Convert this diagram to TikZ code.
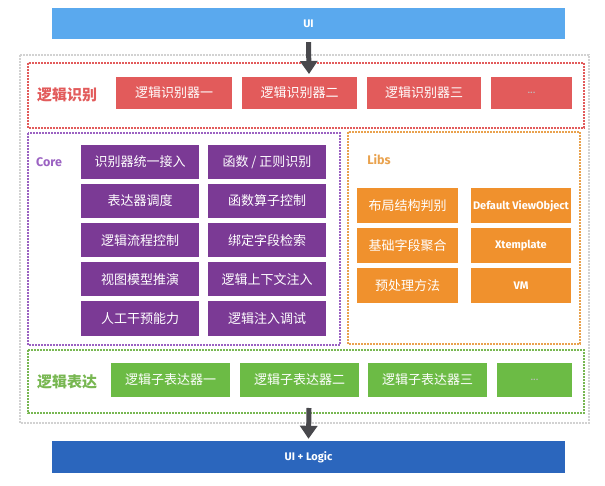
\documentclass[tikz,border=0pt]{standalone}
\usepackage{fontspec}
\setmainfont{Fira Sans}
\newfontfamily\cjk{Noto Sans CJK SC}
\usepackage{xcolor}
\usetikzlibrary{arrows.meta,positioning}
\definecolor{uiblue}{HTML}{5AA9EE}
\definecolor{logicblue}{HTML}{2B66BD}
\definecolor{recred}{HTML}{E25B5B}
\definecolor{corepurple}{HTML}{7B3A95}
\definecolor{corelabel}{HTML}{9B62C2}
\definecolor{liborange}{HTML}{F0912D}
\definecolor{liblabel}{HTML}{E9A24E}
\definecolor{exgreen}{HTML}{6CBB45}
\definecolor{exlabel}{HTML}{78B752}
\definecolor{arrowgray}{HTML}{48484C}
\definecolor{outergray}{HTML}{D2D2D2}

\begin{document}
\begin{tikzpicture}[x=1pt,y=-1pt,
  blk/.style={text=white,inner sep=0pt,font=\cjk\fontsize{13}{15}\selectfont},
  latinblk/.style={font=\bfseries\fontsize{11}{13}\selectfont},
  dots/.style={font=\fontsize{11}{13}\selectfont,text=white!75!black},
  bar/.style={blk,latinblk,minimum width=513pt,minimum height=31pt},
  redbox/.style={blk,fill=recred,minimum width=115pt,minimum height=32pt},
  purplebox/.style={blk,fill=corepurple,minimum width=118pt,minimum height=34pt},
  orangebox/.style={blk,fill=liborange,minimum width=101pt,minimum height=35pt},
  greenbox/.style={blk,fill=exgreen,minimum width=119pt,minimum height=34pt},
  frame/.style={line width=1.6pt,dash pattern=on 1.6pt off 1.4pt},
  grouplabel/.style={font=\cjk\fontsize{15}{17}\selectfont\bfseries},
  latinlabel/.style={font=\bfseries\fontsize{12.5}{14}\selectfont},
  bigarrow/.style={line width=5pt,draw=arrowgray,arrows={-Triangle[width=17pt,length=13pt]}}]
  \useasboundingbox (0,0) rectangle (605,486);

  % top and bottom bars
  \node[bar,fill=uiblue] (ui) at (308.5,23.5) {UI};
  \node[bar,fill=logicblue,minimum height=32pt] (logic) at (308.5,457) {UI + Logic};

  % frames
  \draw[frame,outergray] (20,55) rectangle (589,423);
  \draw[frame,recred] (28,63) rectangle (584,128);
  \draw[frame,corelabel] (28,133) rectangle (340,345);
  \draw[frame,liblabel] (348,132) rectangle (580,344);
  \draw[frame,exlabel] (28,350) rectangle (584,413);

  % recognizers
  \node[grouplabel,text=recred] (rec) at (67,95) {逻辑识别};
  \node[redbox,minimum width=116pt] (r1) at (174,93) {逻辑识别器一};
  \node[redbox] (r2) at (299.5,93) {逻辑识别器二};
  \node[redbox,minimum width=114pt] (r3) at (424,93) {逻辑识别器三};
  \node[redbox,minimum width=81pt,dots] (r4) at (531.5,93) {...};

  % core
  \node[latinlabel,text=corelabel] (core) at (49,162) {Core};
  \node[purplebox] (c11) at (140,162) {识别器统一接入};
  \node[purplebox] (c12) at (267,162) {函数 / 正则识别};
  \node[purplebox] (c21) at (140,201) {表达器调度};
  \node[purplebox] (c22) at (267,201) {函数算子控制};
  \node[purplebox] (c31) at (140,240.5) {逻辑流程控制};
  \node[purplebox] (c32) at (267,240.5) {绑定字段检索};
  \node[purplebox] (c41) at (140,279.5) {视图模型推演};
  \node[purplebox] (c42) at (267,279.5) {逻辑上下文注入};
  \node[purplebox] (c51) at (140,318.5) {人工干预能力};
  \node[purplebox] (c52) at (267,318.5) {逻辑注入调试};

  % libs
  \node[latinlabel,text=liblabel] (libs) at (379,160) {Libs};
  \node[orangebox] (l11) at (407.5,206) {布局结构判别};
  \node[orangebox,latinblk,minimum width=100pt] (l12) at (521,206) {Default ViewObject};
  \node[orangebox] (l21) at (407.5,245.5) {基础字段聚合};
  \node[orangebox,latinblk,minimum width=100pt] (l22) at (521,245.5) {Xtemplate};
  \node[orangebox] (l31) at (407.5,285.5) {预处理方法};
  \node[orangebox,latinblk,minimum width=100pt] (l32) at (521,285.5) {VM};

  % expressors
  \node[grouplabel,text=exlabel] (expr) at (67,382) {逻辑表达};
  \node[greenbox] (e1) at (170.5,380) {逻辑子表达器一};
  \node[greenbox] (e2) at (299.5,380) {逻辑子表达器二};
  \node[greenbox] (e3) at (427.5,380) {逻辑子表达器三};
  \node[greenbox,minimum width=75pt,dots] (e4) at (534.5,380) {...};

  % arrows
  \coordinate (intop) at (309,74);
  \coordinate (outbot) at (309,408);
  \draw[bigarrow] ([yshift=-3pt]ui.south) -- (intop);
  \draw[bigarrow] (outbot) -- ([yshift=2pt]logic.north);
\end{tikzpicture}
\end{document}
